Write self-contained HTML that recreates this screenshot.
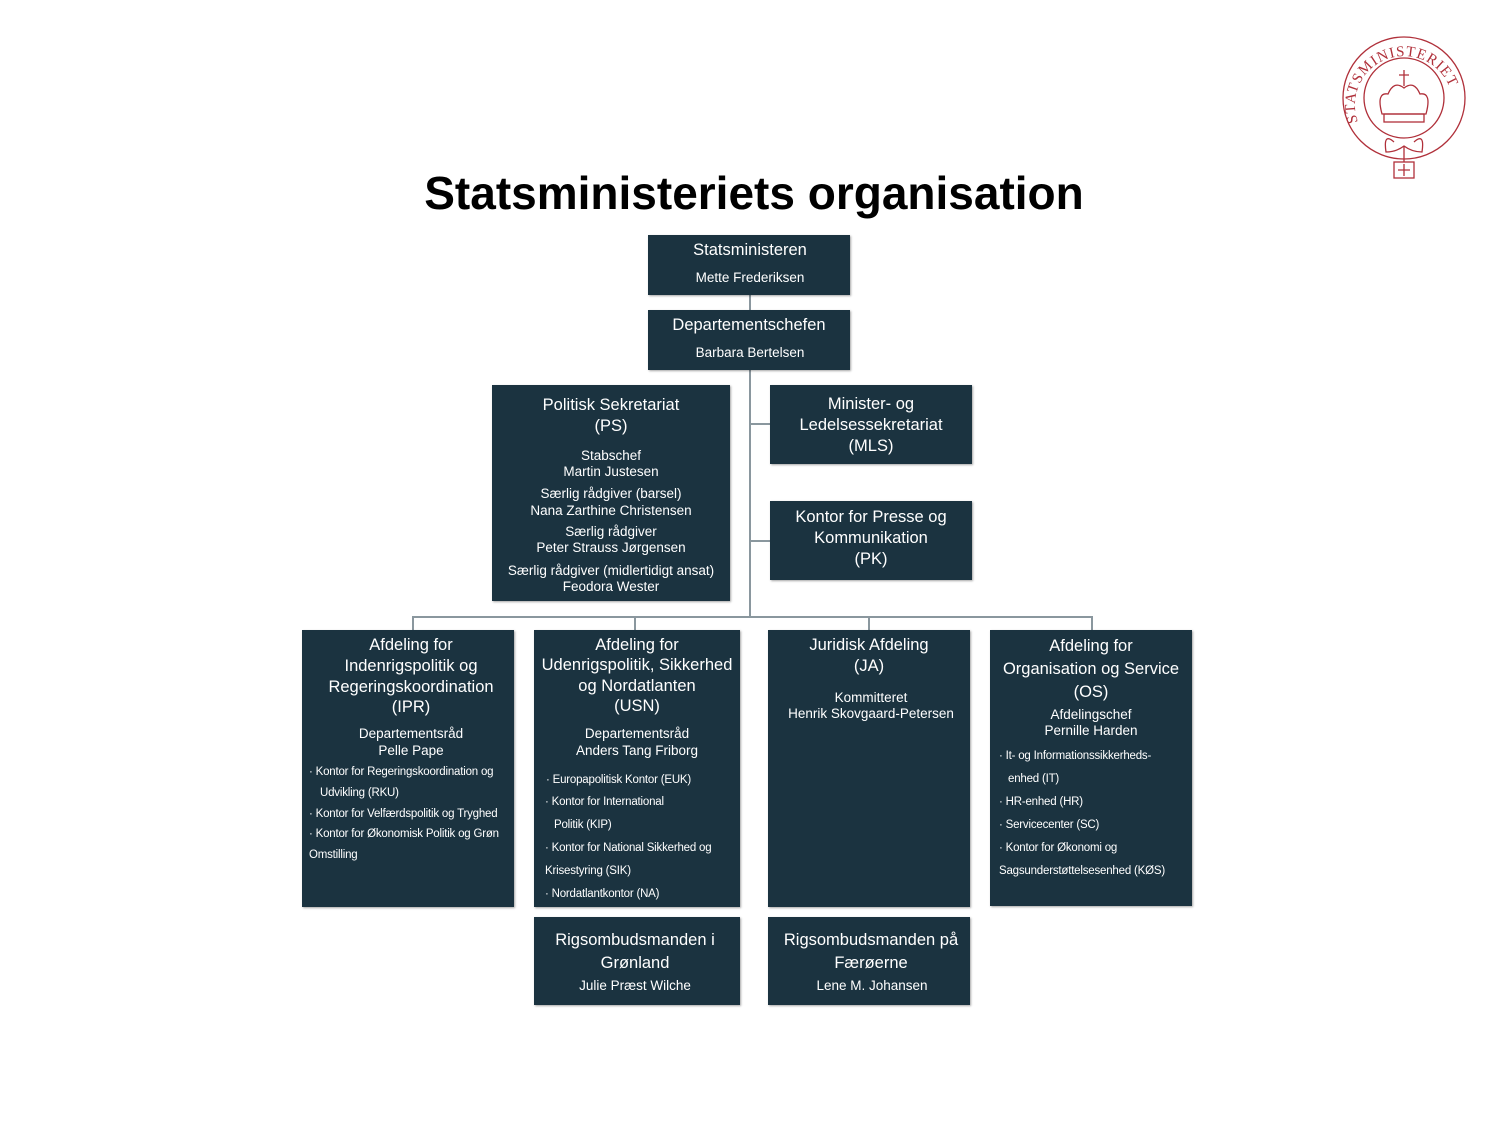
<!DOCTYPE html>
<html><head><meta charset="utf-8"><style>
body{margin:0;width:1500px;height:1125px;background:#fff;position:relative;overflow:hidden;font-family:"Liberation Sans",sans-serif}
.b{position:absolute;background:#1b3340;box-shadow:1px 1px 2px rgba(0,0,0,.35)}
.l{position:absolute;background:#8a979e}
.t{position:absolute;color:#fff;white-space:nowrap;height:20px;line-height:20px;transform:translate(-50%,1px)}
.s{position:absolute;color:#fff;white-space:nowrap;height:16px;line-height:16px;font-size:11.5px;letter-spacing:-0.2px;transform:translateY(1px)}
</style></head><body>
<div style="position:absolute;left:0;width:1508px;top:166px;text-align:center;font-weight:bold;font-size:46px;color:#000">Statsministeriets organisation</div>

<svg style="position:absolute;left:1338px;top:34px" width="132" height="156" viewBox="0 0 132 156">
<defs><path id="arc" d="M20 88 A49 49 0 1 1 112 88"/></defs>
<g fill="none" stroke="#b0303a" stroke-width="1.3">
<circle cx="66" cy="64" r="61"/><circle cx="66" cy="64" r="40"/>
<path d="M44 80 Q38 58 50 60 Q56 46 66 54 Q76 46 82 60 Q94 58 88 80 Z"/>
<rect x="46" y="80" width="40" height="8"/><path d="M66 36 V52 M61 41 H71"/>
<path d="M56 108 Q45 98 48 118 Q58 118 66 112 Q74 118 84 118 Q87 98 76 108 M66 112 V128"/>
<rect x="56" y="128" width="20" height="16"/><path d="M66 130 V142 M60 136 H72"/>
</g>
<text fill="#b0303a" font-family="Liberation Serif" font-size="15" letter-spacing="1"><textPath href="#arc">STATSMINISTERIET</textPath></text>
</svg>

<div class="l" style="left:749px;top:295px;width:1.5px;height:322px"></div>
<div class="l" style="left:750px;top:423px;width:20px;height:1.5px"></div>
<div class="l" style="left:750px;top:540px;width:20px;height:1.5px"></div>
<div class="l" style="left:412px;top:616px;width:681px;height:1.5px"></div>
<div class="l" style="left:412px;top:616px;width:1.5px;height:14px"></div>
<div class="l" style="left:634px;top:616px;width:1.5px;height:14px"></div>
<div class="l" style="left:868px;top:616px;width:1.5px;height:14px"></div>
<div class="l" style="left:1091px;top:616px;width:1.5px;height:14px"></div>

<div class="b" style="left:648px;top:235px;width:202px;height:60px"></div>
<div class="b" style="left:648px;top:310px;width:202px;height:60px"></div>
<div class="b" style="left:492px;top:385px;width:238px;height:216px"></div>
<div class="b" style="left:770px;top:385px;width:202px;height:79px"></div>
<div class="b" style="left:770px;top:501px;width:202px;height:79px"></div>
<div class="b" style="left:302px;top:630px;width:212px;height:277px"></div>
<div class="b" style="left:534px;top:630px;width:206px;height:277px"></div>
<div class="b" style="left:768px;top:630px;width:202px;height:277px"></div>
<div class="b" style="left:990px;top:630px;width:202px;height:276px"></div>
<div class="b" style="left:534px;top:917px;width:206px;height:88px"></div>
<div class="b" style="left:768px;top:917px;width:202px;height:88px"></div>

<div class="t" style="left:750px;top:239px;font-size:16.5px">Statsministeren</div>
<div class="t" style="left:750px;top:267px;font-size:13.5px">Mette Frederiksen</div>
<div class="t" style="left:749px;top:314px;font-size:16.5px">Departementschefen</div>
<div class="t" style="left:750px;top:342px;font-size:13.5px">Barbara Bertelsen</div>

<div class="t" style="left:611px;top:394px;font-size:16.5px">Politisk Sekretariat</div>
<div class="t" style="left:611px;top:415px;font-size:16.5px">(PS)</div>
<div class="t" style="left:611px;top:445px;font-size:13.5px">Stabschef</div>
<div class="t" style="left:611px;top:461px;font-size:13.5px">Martin Justesen</div>
<div class="t" style="left:611px;top:483px;font-size:13.5px">Særlig rådgiver (barsel)</div>
<div class="t" style="left:611px;top:500px;font-size:13.5px">Nana Zarthine Christensen</div>
<div class="t" style="left:611px;top:521px;font-size:13.5px">Særlig rådgiver</div>
<div class="t" style="left:611px;top:537px;font-size:13.5px">Peter Strauss Jørgensen</div>
<div class="t" style="left:611px;top:560px;font-size:13.5px">Særlig rådgiver (midlertidigt ansat)</div>
<div class="t" style="left:611px;top:576px;font-size:13.5px">Feodora Wester</div>

<div class="t" style="left:871px;top:393px;font-size:16.5px">Minister- og</div>
<div class="t" style="left:871px;top:414px;font-size:16.5px">Ledelsessekretariat</div>
<div class="t" style="left:871px;top:435px;font-size:16.5px">(MLS)</div>
<div class="t" style="left:871px;top:506px;font-size:16.5px">Kontor for Presse og</div>
<div class="t" style="left:871px;top:527px;font-size:16.5px">Kommunikation</div>
<div class="t" style="left:871px;top:548px;font-size:16.5px">(PK)</div>

<div class="t" style="left:411px;top:634px;font-size:16.5px">Afdeling for</div>
<div class="t" style="left:411px;top:655px;font-size:16.5px">Indenrigspolitik og</div>
<div class="t" style="left:411px;top:676px;font-size:16.5px">Regeringskoordination</div>
<div class="t" style="left:411px;top:696px;font-size:16.5px">(IPR)</div>
<div class="t" style="left:411px;top:723px;font-size:13.5px">Departementsråd</div>
<div class="t" style="left:411px;top:740px;font-size:13.5px">Pelle Pape</div>
<div class="s" style="left:309px;top:763px">· Kontor for Regeringskoordination og</div>
<div class="s" style="left:320px;top:784px">Udvikling (RKU)</div>
<div class="s" style="left:309px;top:805px">· Kontor for Velfærdspolitik og Tryghed</div>
<div class="s" style="left:309px;top:825px">· Kontor for Økonomisk Politik og Grøn</div>
<div class="s" style="left:309px;top:846px">Omstilling</div>

<div class="t" style="left:637px;top:634px;font-size:16.5px">Afdeling for</div>
<div class="t" style="left:637px;top:654px;font-size:16.5px">Udenrigspolitik, Sikkerhed</div>
<div class="t" style="left:637px;top:675px;font-size:16.5px">og Nordatlanten</div>
<div class="t" style="left:637px;top:695px;font-size:16.5px">(USN)</div>
<div class="t" style="left:637px;top:723px;font-size:13.5px">Departementsråd</div>
<div class="t" style="left:637px;top:740px;font-size:13.5px">Anders Tang Friborg</div>
<div class="s" style="left:546px;top:771px">· Europapolitisk Kontor (EUK)</div>
<div class="s" style="left:545px;top:793px">· Kontor for International</div>
<div class="s" style="left:554px;top:816px">Politik (KIP)</div>
<div class="s" style="left:545px;top:839px">· Kontor for National Sikkerhed og</div>
<div class="s" style="left:545px;top:862px">Krisestyring (SIK)</div>
<div class="s" style="left:545px;top:885px">· Nordatlantkontor (NA)</div>

<div class="t" style="left:869px;top:634px;font-size:16.5px">Juridisk Afdeling</div>
<div class="t" style="left:869px;top:655px;font-size:16.5px">(JA)</div>
<div class="t" style="left:871px;top:687px;font-size:13.5px">Kommitteret</div>
<div class="t" style="left:871px;top:703px;font-size:13.5px">Henrik Skovgaard-Petersen</div>

<div class="t" style="left:1091px;top:635px;font-size:16.5px">Afdeling for</div>
<div class="t" style="left:1091px;top:658px;font-size:16.5px">Organisation og Service</div>
<div class="t" style="left:1091px;top:681px;font-size:16.5px">(OS)</div>
<div class="t" style="left:1091px;top:704px;font-size:13.5px">Afdelingschef</div>
<div class="t" style="left:1091px;top:720px;font-size:13.5px">Pernille Harden</div>
<div class="s" style="left:999px;top:747px">· It- og Informationssikkerheds-</div>
<div class="s" style="left:1008px;top:770px">enhed (IT)</div>
<div class="s" style="left:999px;top:793px">· HR-enhed (HR)</div>
<div class="s" style="left:999px;top:816px">· Servicecenter (SC)</div>
<div class="s" style="left:999px;top:839px">· Kontor for Økonomi og</div>
<div class="s" style="left:999px;top:862px">Sagsunderstøttelsesenhed (KØS)</div>

<div class="t" style="left:635px;top:929px;font-size:16.5px">Rigsombudsmanden i</div>
<div class="t" style="left:635px;top:952px;font-size:16.5px">Grønland</div>
<div class="t" style="left:635px;top:975px;font-size:13.5px">Julie Præst Wilche</div>
<div class="t" style="left:871px;top:929px;font-size:16.5px">Rigsombudsmanden på</div>
<div class="t" style="left:871px;top:952px;font-size:16.5px">Færøerne</div>
<div class="t" style="left:872px;top:975px;font-size:13.5px">Lene M. Johansen</div>
</body></html>
